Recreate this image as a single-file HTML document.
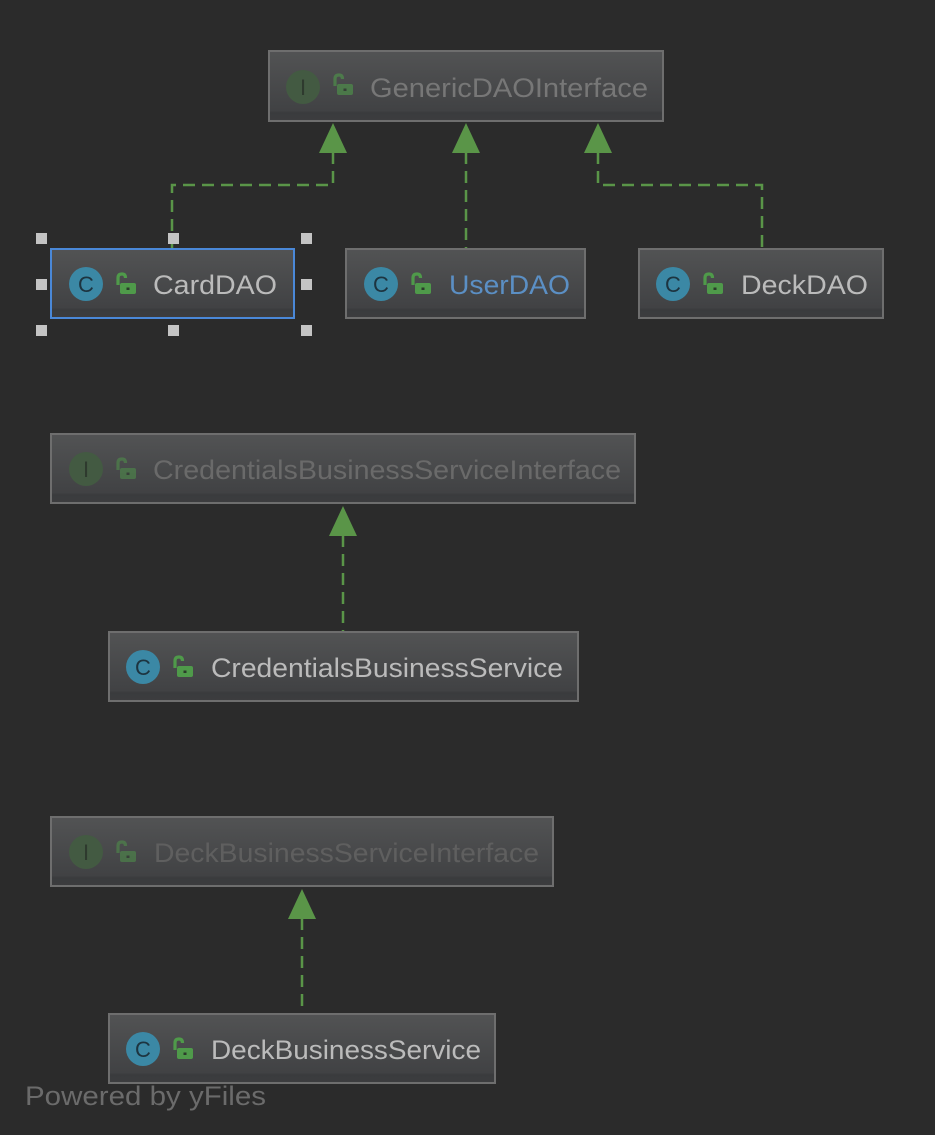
<!DOCTYPE html>
<html><head><meta charset="utf-8"><style>
html,body{margin:0;padding:0;background:#2b2b2b;width:935px;height:1135px;overflow:hidden}
text{font-family:"Liberation Sans",sans-serif}
</style></head><body>
<svg width="935" height="1135" viewBox="0 0 935 1135" xmlns="http://www.w3.org/2000/svg">
<defs>
<linearGradient id="g" x1="0" y1="0" x2="0" y2="1"><stop offset="0" stop-color="#525354"/><stop offset="0.85" stop-color="#414244"/><stop offset="0.88" stop-color="#3a3b3d"/><stop offset="1" stop-color="#3c3d3f"/></linearGradient>
<g id="lock"><path d="M1 10 V3 Q1 -1 5 -1 Q8.5 -1 8.5 3" fill="none" stroke="#4f9a4a" stroke-width="3.2"/><rect x="3" y="8" width="16" height="11" rx="2" fill="#4f9a4a"/><rect x="9.5" y="12.5" width="3" height="2.5" fill="#2b3b2b"/></g>
</defs>
<rect width="935" height="1135" fill="#2b2b2b"/>

<g fill="none" stroke="#5a9548" stroke-width="2.5" stroke-dasharray="12,7">
<polyline points="333,152 333,185 172,185 172,248"/>
<polyline points="466,152 466,248"/>
<polyline points="598,152 598,185 762,185 762,248"/>
<polyline points="343,535 343,631"/>
<polyline points="302,918 302,1013"/>
</g>
<g fill="#5a9548">
<polygon points="333,123 319,153 347,153"/>
<polygon points="466,123 452,153 480,153"/>
<polygon points="598,123 584,153 612,153"/>
<polygon points="343,506 329,536 357,536"/>
<polygon points="302,889 288,919 316,919"/>
</g>

<g stroke="#6e6e6e" stroke-width="2" fill="url(#g)">
<rect x="269" y="51" width="394" height="70"/>
<rect x="51" y="249" width="243" height="69" stroke="#4a88d8"/>
<rect x="346" y="249" width="239" height="69"/>
<rect x="639" y="249" width="244" height="69"/>
<rect x="51" y="434" width="584" height="69"/>
<rect x="109" y="632" width="469" height="69"/>
<rect x="51" y="817" width="502" height="69"/>
<rect x="109" y="1014" width="386" height="69"/>
</g>

<g font-size="22" text-anchor="middle">
<circle cx="303" cy="87" r="17" fill="#435a42"/><text x="303" y="95" fill="#2e3a2e" font-family="Liberation Serif">I</text>
<circle cx="86" cy="284" r="17" fill="#3b88a5"/><text x="86" y="292" fill="#1d3440">C</text>
<circle cx="381" cy="284" r="17" fill="#3b88a5"/><text x="381" y="292" fill="#1d3440">C</text>
<circle cx="673" cy="284" r="17" fill="#3b88a5"/><text x="673" y="292" fill="#1d3440">C</text>
<circle cx="86" cy="469" r="17" fill="#435a42"/><text x="86" y="477" fill="#2e3a2e" font-family="Liberation Serif">I</text>
<circle cx="143" cy="667" r="17" fill="#3b88a5"/><text x="143" y="675" fill="#1d3440">C</text>
<circle cx="86" cy="852" r="17" fill="#435a42"/><text x="86" y="860" fill="#2e3a2e" font-family="Liberation Serif">I</text>
<circle cx="143" cy="1049" r="17" fill="#3b88a5"/><text x="143" y="1057" fill="#1d3440">C</text>
</g>
<use href="#lock" x="334" y="76" opacity="0.6"/>
<use href="#lock" x="117" y="275"/>
<use href="#lock" x="412" y="275"/>
<use href="#lock" x="704" y="275"/>
<use href="#lock" x="117" y="460" opacity="0.5"/>
<use href="#lock" x="174" y="658"/>
<use href="#lock" x="117" y="843" opacity="0.5"/>
<use href="#lock" x="174" y="1040"/>

<g font-size="27">
<text x="370" y="97" fill="#777" textLength="278" lengthAdjust="spacingAndGlyphs">GenericDAOInterface</text>
<text x="153" y="294" fill="#bbbbbb" textLength="124" lengthAdjust="spacingAndGlyphs">CardDAO</text>
<text x="449" y="294" fill="#5b8fc4" textLength="121" lengthAdjust="spacingAndGlyphs">UserDAO</text>
<text x="741" y="294" fill="#bbbbbb" textLength="127" lengthAdjust="spacingAndGlyphs">DeckDAO</text>
<text x="153" y="479" fill="#6a6a6a" textLength="468" lengthAdjust="spacingAndGlyphs">CredentialsBusinessServiceInterface</text>
<text x="211" y="677" fill="#bbbbbb" textLength="352" lengthAdjust="spacingAndGlyphs">CredentialsBusinessService</text>
<text x="154" y="862" fill="#5f5f5f" textLength="385" lengthAdjust="spacingAndGlyphs">DeckBusinessServiceInterface</text>
<text x="211" y="1059" fill="#bbbbbb" textLength="270" lengthAdjust="spacingAndGlyphs">DeckBusinessService</text>
<text x="25" y="1105" fill="#6b6b6b" textLength="241" lengthAdjust="spacingAndGlyphs">Powered by yFiles</text>
</g>

<g fill="#c4c4c4">
<rect x="36" y="233" width="11" height="11"/><rect x="168" y="233" width="11" height="11"/><rect x="301" y="233" width="11" height="11"/>
<rect x="36" y="279" width="11" height="11"/><rect x="301" y="279" width="11" height="11"/>
<rect x="36" y="325" width="11" height="11"/><rect x="168" y="325" width="11" height="11"/><rect x="301" y="325" width="11" height="11"/>
</g>
</svg>
</body></html>
